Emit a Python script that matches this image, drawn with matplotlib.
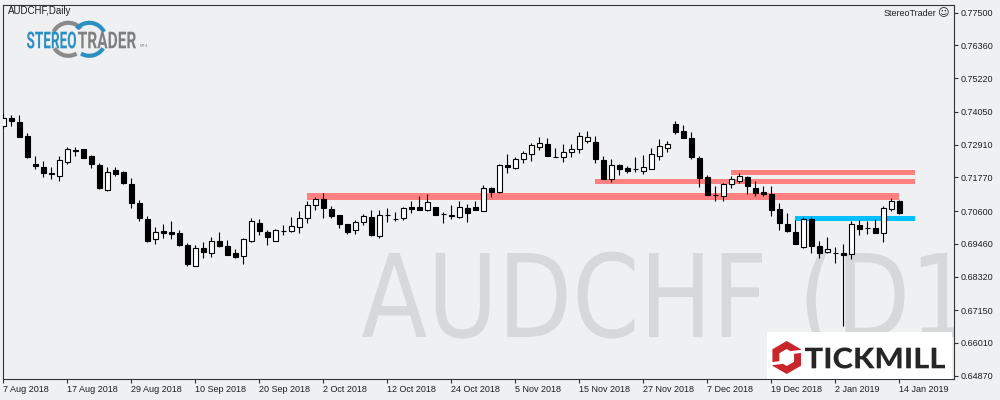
import numpy as np
import matplotlib
matplotlib.use('Agg')
import matplotlib.pyplot as plt
from matplotlib.patches import Rectangle, PathPatch, Arc, Polygon
from matplotlib.textpath import TextPath
from matplotlib.font_manager import FontProperties
from matplotlib.transforms import Affine2D, IdentityTransform

# ---------------- data (AUDCHF daily) ----------------
opens = [0.73569, 0.73826, 0.73687, 0.73210, 0.72236, 0.72131, 0.71912, 0.71829, 0.72295, 0.72699,
         0.72747, 0.72514, 0.72201, 0.71341, 0.72027, 0.71957, 0.71529, 0.70868, 0.70312, 0.69636,
         0.69904, 0.69859, 0.69824, 0.69418, 0.68698, 0.69303, 0.69150, 0.69557, 0.69383, 0.69140,
         0.69046, 0.69547, 0.70183, 0.69869, 0.69568, 0.69894, 0.69894, 0.70033, 0.70367, 0.70798,
         0.71007, 0.70659, 0.70450, 0.70148, 0.69950, 0.70207, 0.70381, 0.69741, 0.70455, 0.70332,
         0.70346, 0.70750, 0.70740, 0.70625, 0.70729, 0.70506, 0.70465, 0.70381, 0.70694, 0.70740,
         0.70611, 0.71390, 0.71272, 0.72201, 0.72107, 0.72399, 0.72573, 0.72838, 0.72932, 0.72495,
         0.72470, 0.72644, 0.72748, 0.73046, 0.72991, 0.72375, 0.71714, 0.72191, 0.72086, 0.72051,
         0.72003, 0.72072, 0.72525, 0.72782, 0.73628, 0.73384, 0.73130, 0.72444, 0.71784, 0.71157,
         0.71133, 0.71530, 0.71655, 0.71794, 0.71400, 0.71261, 0.71192, 0.70670, 0.70148, 0.69869,
         0.69359, 0.70322, 0.69383, 0.69185, 0.69129, 0.69140, 0.69095, 0.70113, 0.70005, 0.69998,
         0.69824, 0.70670, 0.70948]
highs = [0.74000, 0.73941, 0.73941, 0.73304, 0.72514, 0.72351, 0.72121, 0.72514, 0.72838, 0.72817,
         0.72760, 0.72549, 0.72271, 0.72121, 0.72121, 0.71992, 0.71738, 0.70983, 0.70426, 0.70043,
         0.70137, 0.70252, 0.69939, 0.69498, 0.69418, 0.69512, 0.69695, 0.69859, 0.69581, 0.69268,
         0.69651, 0.70367, 0.70322, 0.69939, 0.69974, 0.70113, 0.70391, 0.70600, 0.70948, 0.71098,
         0.71227, 0.70774, 0.70460, 0.70160, 0.70297, 0.70485, 0.70625, 0.70625, 0.70715, 0.70565,
         0.70740, 0.70938, 0.71122, 0.71181, 0.70750, 0.70555, 0.70798, 0.70948, 0.70854, 0.70938,
         0.71505, 0.71446, 0.72226, 0.72584, 0.72490, 0.72688, 0.72977, 0.73175, 0.73130, 0.72782,
         0.72922, 0.72922, 0.73339, 0.73384, 0.73210, 0.72514, 0.72399, 0.72226, 0.72166, 0.72479,
         0.72549, 0.72782, 0.73106, 0.73036, 0.73732, 0.73593, 0.73342, 0.72525, 0.71853, 0.71470,
         0.71585, 0.71829, 0.71912, 0.71829, 0.71644, 0.71470, 0.71470, 0.70889, 0.70541, 0.70287,
         0.70402, 0.70402, 0.69568, 0.69686, 0.69338, 0.69453, 0.70252, 0.70287, 0.70252, 0.70311,
         0.70774, 0.71042, 0.70983]
lows = [0.73478, 0.73569, 0.73186, 0.72434, 0.72072, 0.71794, 0.71724, 0.71655, 0.72236, 0.72525,
        0.72440, 0.72107, 0.71366, 0.71307, 0.71829, 0.71550, 0.70694, 0.70263, 0.69533, 0.69463,
        0.69671, 0.69636, 0.69394, 0.68698, 0.68680, 0.68976, 0.69011, 0.69359, 0.69060, 0.68976,
        0.68746, 0.69530, 0.69765, 0.69428, 0.69547, 0.69755, 0.69880, 0.69845, 0.70193, 0.70645,
        0.70367, 0.70367, 0.70019, 0.69810, 0.69810, 0.70102, 0.69720, 0.69671, 0.70207, 0.70263,
        0.70287, 0.70541, 0.70625, 0.70590, 0.70450, 0.70172, 0.70332, 0.70346, 0.70207, 0.70630,
        0.70600, 0.71098, 0.71237, 0.71933, 0.72051, 0.72281, 0.72340, 0.72723, 0.72510, 0.72470,
        0.72316, 0.72490, 0.72602, 0.72977, 0.72281, 0.71700, 0.71620, 0.71854, 0.71922, 0.71968,
        0.71888, 0.72060, 0.72375, 0.72664, 0.73291, 0.73130, 0.72410, 0.71446, 0.71140, 0.70960,
        0.70960, 0.71417, 0.71585, 0.71192, 0.71133, 0.71122, 0.70437, 0.69939, 0.69880, 0.69450,
        0.69303, 0.69150, 0.68976, 0.69150, 0.68781, 0.66609, 0.68920, 0.69765, 0.69790, 0.69824,
        0.69533, 0.70611, 0.70510]
closes = [0.73826, 0.73743, 0.73186, 0.72490, 0.72166, 0.71933, 0.71877, 0.72365, 0.72747, 0.72713,
          0.72455, 0.72246, 0.71401, 0.71947, 0.71898, 0.71575, 0.70889, 0.70367, 0.69557, 0.69859,
          0.69845, 0.69810, 0.69418, 0.68767, 0.69303, 0.69174, 0.69547, 0.69383, 0.69080, 0.69011,
          0.69627, 0.70252, 0.69894, 0.69696, 0.69929, 0.69915, 0.70068, 0.70367, 0.70798, 0.71007,
          0.70694, 0.70436, 0.70158, 0.69880, 0.70217, 0.70416, 0.69776, 0.70450, 0.70465, 0.70338,
          0.70694, 0.70680, 0.70645, 0.70903, 0.70471, 0.70512, 0.70419, 0.70729, 0.70541, 0.70645,
          0.71390, 0.71272, 0.72201, 0.72142, 0.72399, 0.72608, 0.72897, 0.72956, 0.72525, 0.72485,
          0.72644, 0.72748, 0.73210, 0.73165, 0.72410, 0.71714, 0.72191, 0.72062, 0.72003, 0.72055,
          0.72121, 0.72584, 0.72862, 0.72922, 0.73360, 0.73151, 0.72490, 0.71759, 0.71157, 0.71150,
          0.71530, 0.71714, 0.71818, 0.71481, 0.71237, 0.71181, 0.70645, 0.70193, 0.69904, 0.69463,
          0.70322, 0.69394, 0.69150, 0.69279, 0.69133, 0.69080, 0.70138, 0.69985, 0.70013, 0.69845,
          0.70694, 0.70948, 0.70520]

date_labels = ['7 Aug 2018', '17 Aug 2018', '29 Aug 2018', '10 Sep 2018', '20 Sep 2018',
               '2 Oct 2018', '12 Oct 2018', '24 Oct 2018', '5 Nov 2018', '15 Nov 2018',
               '27 Nov 2018', '7 Dec 2018', '19 Dec 2018', '2 Jan 2019', '14 Jan 2019']
bars_per_label = 8

price_ticks = [0.77500, 0.76360, 0.75220, 0.74050, 0.72910, 0.71770,
               0.70600, 0.69460, 0.68320, 0.67150, 0.66010, 0.64870]

# support / resistance zones (bar index span, price span)
zone_start = [38, 74, 91, 99]
zone_end = [112, 114, 114, 114]
zone_low = [0.70983, 0.71540, 0.71864, 0.70252]
zone_high = [0.71227, 0.71714, 0.72027, 0.70426]
zone_color = ['#FF8080', '#FF8080', '#FF8080', '#00BFFF']

# ---------------- figure ----------------
BG = '#EFF0F2'
W, H = 1000, 400
plt.rcParams['font.family'] = ['Liberation Sans', 'DejaVu Sans']
TXT = '#1E1E1E'

fig = plt.figure(figsize=(W / 100, H / 100), dpi=100, facecolor=BG)
ax = fig.add_axes([3 / W, 21 / H, (954 - 3) / W, (379 - 5) / H])
ax.set_facecolor(BG)

PX = IdentityTransform()


def text_patch(s, x_left, baseline, width, cap_h, color, family, weight='normal',
               ref=None, zorder=5, parent=None):
    fp = FontProperties(family=family, weight=weight)
    tp = TextPath((0, 0), s, size=100, prop=fp)
    refp = TextPath((0, 0), ref if ref else s, size=100, prop=fp)
    rext = refp.get_extents()
    cap = TextPath((0, 0), 'H', size=100, prop=fp).get_extents().height
    sy = cap_h / cap
    sx = width / rext.width
    tr = Affine2D().translate(-rext.x0, 0).scale(sx, sy).translate(x_left, H - baseline)
    p = PathPatch(tp, transform=tr + PX, facecolor=color, edgecolor='none', lw=0, zorder=zorder)
    if parent is None:
        fig.add_artist(p)
    else:
        parent.add_artist(p)
    return p


# watermark
text_patch('AUDCHF (D1)', 362, 337, 400, 84, '#D7D8D9', 'DejaVu Sans', 'normal',
           ref='AUDCHF', zorder=0.5, parent=ax)

# zones
for s, e, lo, hi, col in zip(zone_start, zone_end, zone_low, zone_high, zone_color):
    ax.add_patch(Rectangle((s, lo), e - s, hi - lo, facecolor=col, edgecolor='none', lw=0, zorder=2))

# candles
o = np.array(opens); h = np.array(highs); l = np.array(lows); c = np.array(closes)
x = np.arange(len(o))
up = c >= o
ax.vlines(x, l, h, color='black', lw=0.8, zorder=3)
body_lo = np.minimum(o, c)
body_h = np.maximum(np.abs(c - o), 1e-6)
ax.bar(x, body_h, bottom=body_lo, width=0.6,
       color=np.where(up, 'white', 'black'), edgecolor='black', linewidth=0.8, zorder=4)

ax.set_xlim(-0.04, (954 - 3.3) / 8)
ax.set_ylim(0.647553, 0.777679)

ax.set_xticks(np.arange(len(date_labels)) * bars_per_label)
ax.set_xticklabels(date_labels, ha='left')
ax.yaxis.tick_right()
ax.set_yticks(price_ticks)
ax.set_yticklabels([f'{v:.5f}' for v in price_ticks])
ax.tick_params(axis='x', direction='out', length=3, width=0.8, pad=1, labelsize=6.5,
               colors='#333333', labelcolor=TXT)
ax.tick_params(axis='y', direction='out', length=3, width=0.8, pad=2, labelsize=6.5,
               colors='#333333', labelcolor=TXT)
for sp in ax.spines.values():
    sp.set_color('#333333')
    sp.set_linewidth(0.8)

# header texts
fig.text(8 / W, 1 - 11.5 / H, 'AUDCHF,Daily', fontsize=7, ha='left', va='center', color=TXT)
fig.text(936 / W, 1 - 13.3 / H, 'StereoTrader', fontsize=6.5, ha='right', va='center', color=TXT)
fig.text(942.5 / W, 1 - 13.3 / H, '\u263A', fontsize=8, ha='center', va='center', color=TXT,
         family=['DejaVu Sans'])

# StereoTrader logo
BLUE = '#2C8FC2'
GREY = '#8A8A8A'
for (cx, cy, col, spans) in [(68.3, 39.3, GREY, [(40, 153), (213, 300)]),
                             (89.3, 39.3, BLUE, [(27, 140), (240, 327)])]:
    for t1, t2 in spans:
        fig.add_artist(Arc((cx, H - cy), 33, 33, theta1=t1, theta2=t2, transform=PX,
                           color=col, lw=3, zorder=4))
text_patch('STEREO', 27, 48.3, 49, 16.6, BLUE, 'Roboto', 'bold', zorder=5)
text_patch('TRADER', 78, 48.3, 58, 16.6, '#7F7F7F', 'Roboto', 'bold', zorder=5)
fig.text(140 / W, 1 - 46 / H, 'MT4', fontsize=3, ha='left', va='center', color='#8A8A8A')

# TICKMILL badge
fig.add_artist(Rectangle((767, H - 379), 185, 47, transform=PX, facecolor='white',
                         edgecolor='none', zorder=6))
cx, cy = 786.7, H - 357.5
ang = np.deg2rad(np.arange(6) * 60 + 90)
fig.add_artist(Polygon(np.c_[cx + 16.5 * np.cos(ang), cy + 16.5 * np.sin(ang)], closed=True,
                       transform=PX, facecolor='#C9252C', edgecolor='none', zorder=7))
fig.add_artist(Polygon(np.c_[cx + 8.5 * np.cos(ang), cy + 8.5 * np.sin(ang)], closed=True,
                       transform=PX, facecolor='white', edgecolor='none', zorder=8))
for a in (20, 200):
    r = np.deg2rad(a)
    fig.add_artist(plt.Line2D([cx + 6 * np.cos(r), cx + 19 * np.cos(r)],
                              [cy + 6 * np.sin(r) + 3 * np.sign(np.cos(r)), cy + 19 * np.sin(r)],
                              transform=PX, color='white', lw=2.2, zorder=9))
text_patch('TICKMILL', 805, 368.3, 140, 20.6, '#262626', 'Lato', 'black', zorder=9)

fig.savefig('out.png', dpi=100, facecolor=BG)
